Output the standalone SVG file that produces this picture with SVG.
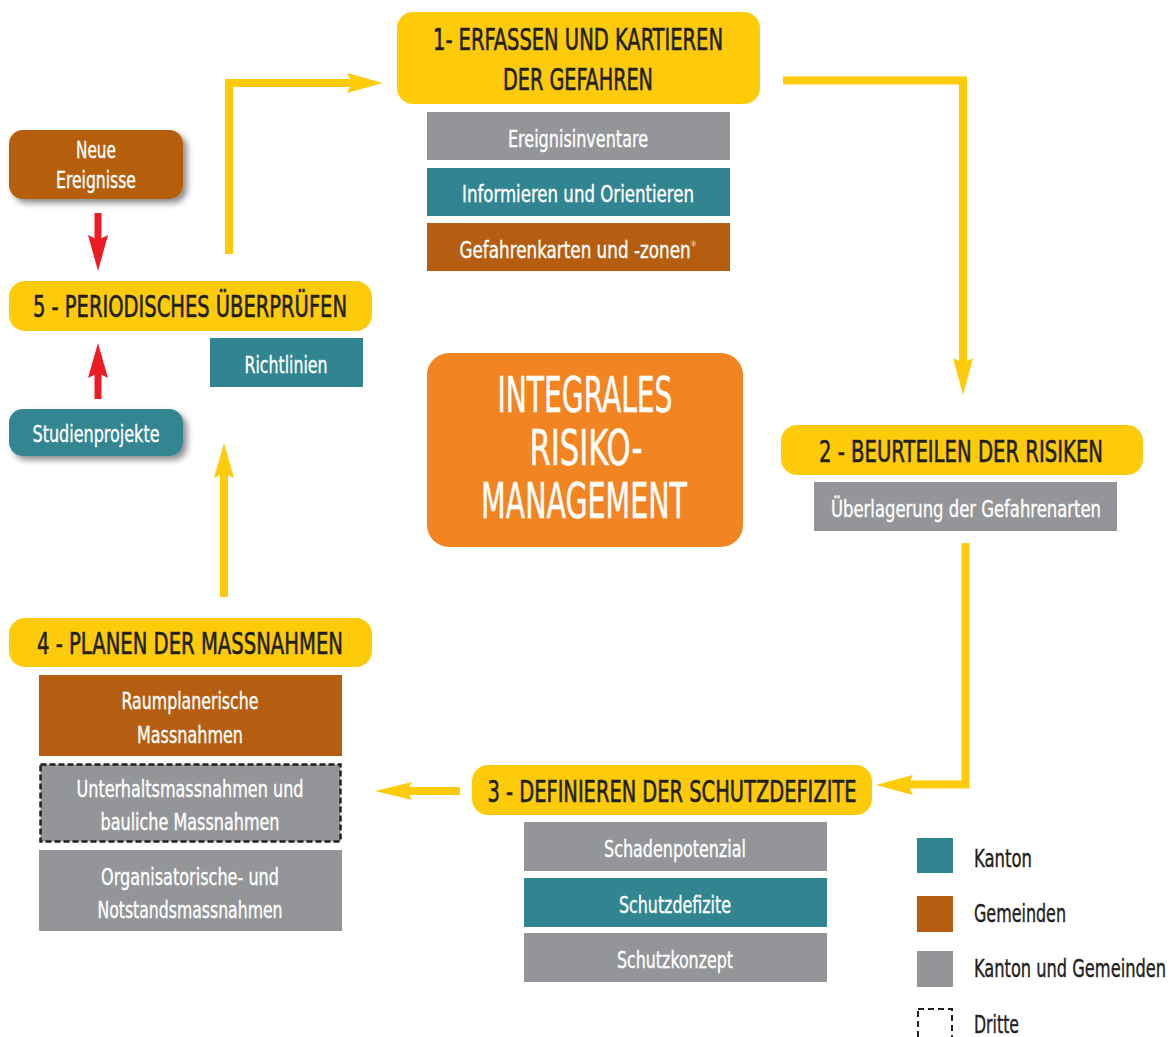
<svg xmlns="http://www.w3.org/2000/svg" width="1176" height="1037" viewBox="0 0 1176 1037">
<style>
text{font-family:"Liberation Sans Narrow","DejaVu Sans Condensed","Liberation Sans",sans-serif;}
.step{fill:#FECB0A;}
.h{font-size:30px;fill:#231F20;text-anchor:middle;stroke:#231F20;stroke-width:0.6;}
.s{font-size:23px;fill:#FFFFFF;text-anchor:middle;stroke:#FFFFFF;stroke-width:0.35;}
.c{font-size:50px;fill:#FFFFFF;text-anchor:middle;stroke:#FFFFFF;stroke-width:0.5;}
.lg{font-size:25px;fill:#231F20;stroke:#231F20;stroke-width:0.4;}
.teal{fill:#318591;}
.brown{fill:#B55E11;}
.gray{fill:#939598;}
.ln{fill:none;stroke:#FECB0A;stroke-width:8;}
.ah{fill:#FECB0A;}
.rl{fill:none;stroke:#ED1C24;stroke-width:7;}
.rh{fill:#ED1C24;}
</style>
<defs>
<filter id="sh" x="-20%" y="-20%" width="150%" height="160%">
<feDropShadow dx="4" dy="4" stdDeviation="3" flood-color="#000" flood-opacity="0.45"/>
</filter>
</defs>

<g id="connectors">
<polyline class="ln" points="229,254 229,83 352,83"/>
<path class="ah" d="M347,73 L383,83 L347,93 L352,83 Z"/>
<polyline class="ln" points="783,80.5 963,80.5 963,363"/>
<path class="ah" d="M953,358 L963,395 L973,358 L963,363 Z"/>
<polyline class="ln" points="965.5,543 965.5,784.5 908,784.5"/>
<path class="ah" d="M913,775 L876,785 L913,795 L908,785 Z"/>
<polyline class="ln" points="460,791 407,791"/>
<path class="ah" d="M412,782 L375,791 L412,800 L407,791 Z"/>
<polyline class="ln" points="224,597 224,473"/>
<path class="ah" d="M214,478 L224,443 L234,478 L224,473 Z"/>
<polyline class="rl" points="98,213 98,240"/>
<path class="rh" d="M88,235 L98,271 L108,235 L98,240 Z"/>
<polyline class="rl" points="98,399 98,373"/>
<path class="rh" d="M88,378 L98,343 L108,378 L98,373 Z"/>
</g>

<g id="node1">
<rect class="step" x="397" y="12" width="363" height="92" rx="16"/>
<text class="h" x="578" y="50" textLength="290" lengthAdjust="spacingAndGlyphs">1- ERFASSEN UND KARTIEREN</text>
<text class="h" x="578" y="90" textLength="150" lengthAdjust="spacingAndGlyphs">DER GEFAHREN</text>
</g>
<g id="node1a"><rect class="gray" x="427" y="112" width="303" height="48"/><text class="s" x="578" y="147" textLength="140" lengthAdjust="spacingAndGlyphs">Ereignisinventare</text></g>
<g id="node1b"><rect class="teal" x="427" y="168" width="303" height="48"/><text class="s" x="578" y="202" textLength="232" lengthAdjust="spacingAndGlyphs">Informieren und Orientieren</text></g>
<g id="node1c"><rect class="brown" x="427" y="223" width="303" height="48"/><text class="s" x="578" y="258" textLength="237" lengthAdjust="spacingAndGlyphs">Gefahrenkarten und -zonen<tspan style="font-size:16px;fill:#D9C4B0;stroke:none;" dy="-6">*</tspan></text></g>

<g id="node2">
<rect class="step" x="781" y="425" width="362" height="50" rx="16"/>
<text class="h" x="961" y="462" textLength="284" lengthAdjust="spacingAndGlyphs">2 - BEURTEILEN DER RISIKEN</text>
</g>
<g id="node2a"><rect class="gray" x="814" y="482" width="303" height="49"/><text class="s" x="966" y="517" textLength="270" lengthAdjust="spacingAndGlyphs">Überlagerung der Gefahrenarten</text></g>

<g id="node3">
<rect class="step" x="472" y="765" width="400" height="50" rx="16"/>
<text class="h" x="672" y="802" textLength="369" lengthAdjust="spacingAndGlyphs">3 - DEFINIEREN DER SCHUTZDEFIZITE</text>
</g>
<g id="node3a"><rect class="gray" x="524" y="822" width="303" height="49"/><text class="s" x="675" y="857" textLength="142" lengthAdjust="spacingAndGlyphs">Schadenpotenzial</text></g>
<g id="node3b"><rect class="teal" x="524" y="878" width="303" height="49"/><text class="s" x="675" y="913" textLength="112" lengthAdjust="spacingAndGlyphs">Schutzdefizite</text></g>
<g id="node3c"><rect class="gray" x="524" y="933" width="303" height="49"/><text class="s" x="675" y="968" textLength="116" lengthAdjust="spacingAndGlyphs">Schutzkonzept</text></g>

<g id="node4">
<rect class="step" x="9" y="618" width="363" height="49" rx="16"/>
<text class="h" x="190" y="654" textLength="306" lengthAdjust="spacingAndGlyphs">4 - PLANEN DER MASSNAHMEN</text>
</g>
<g id="node4a"><rect class="brown" x="39" y="675" width="303" height="81"/>
<text class="s" x="190" y="709" textLength="137" lengthAdjust="spacingAndGlyphs">Raumplanerische</text>
<text class="s" x="190" y="743" textLength="106" lengthAdjust="spacingAndGlyphs">Massnahmen</text></g>
<g id="node4b"><rect class="gray" x="40.5" y="764.5" width="300" height="77" stroke="#231F20" stroke-width="2.5" stroke-dasharray="6 3"/>
<text class="s" x="190" y="797" textLength="227" lengthAdjust="spacingAndGlyphs">Unterhaltsmassnahmen und</text>
<text class="s" x="190" y="830" textLength="179" lengthAdjust="spacingAndGlyphs">bauliche Massnahmen</text></g>
<g id="node4c"><rect class="gray" x="39" y="850" width="303" height="81"/>
<text class="s" x="190" y="885" textLength="178" lengthAdjust="spacingAndGlyphs">Organisatorische- und</text>
<text class="s" x="190" y="918" textLength="185" lengthAdjust="spacingAndGlyphs">Notstandsmassnahmen</text></g>

<g id="node5">
<rect class="step" x="9" y="281" width="363" height="50" rx="16"/>
<text class="h" x="190" y="317" textLength="314" lengthAdjust="spacingAndGlyphs">5 - PERIODISCHES ÜBERPRÜFEN</text>
</g>
<g id="node5a"><rect class="teal" x="210" y="338" width="153" height="49"/><text class="s" x="286" y="373" textLength="83" lengthAdjust="spacingAndGlyphs">Richtlinien</text></g>

<g id="neue-ereignisse">
<rect class="brown" x="9" y="130" width="174" height="69" rx="14" filter="url(#sh)"/>
<text class="s" x="96" y="158" textLength="40" lengthAdjust="spacingAndGlyphs">Neue</text>
<text class="s" x="96" y="188" textLength="80" lengthAdjust="spacingAndGlyphs">Ereignisse</text>
</g>
<g id="studienprojekte">
<rect class="teal" x="9" y="409" width="174" height="47" rx="14" filter="url(#sh)"/>
<text class="s" x="96" y="442" textLength="127" lengthAdjust="spacingAndGlyphs">Studienprojekte</text>
</g>

<g id="center">
<rect x="427" y="353" width="316" height="194" rx="22" fill="#F28421"/>
<text class="c" x="585" y="412" textLength="175" lengthAdjust="spacingAndGlyphs">INTEGRALES</text>
<text class="c" x="586" y="465" textLength="113" lengthAdjust="spacingAndGlyphs">RISIKO-</text>
<text class="c" x="584" y="518" textLength="206" lengthAdjust="spacingAndGlyphs">MANAGEMENT</text>
</g>

<g id="legend">
<rect class="teal" x="917" y="838" width="36" height="35"/>
<text class="lg" x="974" y="867" textLength="58" lengthAdjust="spacingAndGlyphs">Kanton</text>
<rect class="brown" x="917" y="896" width="36" height="36"/>
<text class="lg" x="974" y="922" textLength="92" lengthAdjust="spacingAndGlyphs">Gemeinden</text>
<rect class="gray" x="917" y="951" width="36" height="36"/>
<text class="lg" x="974" y="977" textLength="192" lengthAdjust="spacingAndGlyphs">Kanton und Gemeinden</text>
<rect x="918" y="1009" width="34" height="40" fill="none" stroke="#231F20" stroke-width="2" stroke-dasharray="6 4"/>
<text class="lg" x="974" y="1033" textLength="45" lengthAdjust="spacingAndGlyphs">Dritte</text>
</g>
</svg>
